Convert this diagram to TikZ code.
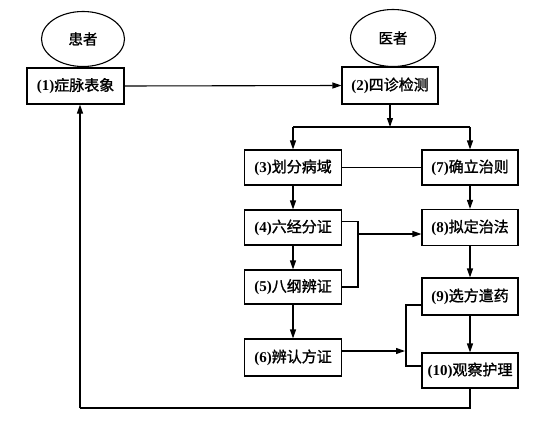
\documentclass[tikz,border=0pt]{standalone}
\usepackage{fontspec}
\setmainfont{Liberation Serif}
\newfontfamily\cjk[FakeBold=1.3]{Noto Sans CJK SC}
\usetikzlibrary{shapes.geometric,arrows.meta,calc}
\tikzset{
  box/.style={draw,line width=1.1pt,minimum width=97pt,minimum height=36pt,inner sep=0pt,font=\fontsize{15}{17}\selectfont},
  oval/.style={draw,ellipse,line width=1.1pt,inner sep=0pt,font=\fontsize{14.5}{16}\selectfont\cjk},
  ln/.style={line width=1.1pt},
  arr/.style={line width=1.1pt,-{Triangle[length=9pt,width=6pt]}}
}
\newcommand{\bx}[2]{{\bfseries(#1)}{\cjk #2}}
\begin{document}
\begin{tikzpicture}[x=1pt,y=-1pt]
\useasboundingbox (0,0) rectangle (546,423);
\node[oval,minimum width=83pt,minimum height=55pt] (pat) at (83,39) {患者};
\node[oval,minimum width=85pt,minimum height=57pt] (doc) at (393,38) {医者};
\node[box] (n1) at (75.5,86) {\bx{1}{症脉表象}};
\node[box,minimum width=96pt,minimum height=37pt] (n2) at (390,85.5) {\bx{2}{四诊检测}};
\node[box,minimum height=35pt] (n3) at (293,167.5) {\bx{3}{划分病域}};
\node[box,minimum width=96pt,minimum height=35pt] (n7) at (470,167.5) {\bx{7}{确立治则}};
\node[box,minimum height=35pt] (n4) at (293,227.5) {\bx{4}{六经分证}};
\node[box,minimum width=96pt] (n8) at (470,227.5) {\bx{8}{拟定治法}};
\node[box,minimum height=34pt] (n5) at (293,287) {\bx{5}{八纲辨证}};
\node[box,minimum width=96pt,minimum height=37pt] (n9) at (470,296.5) {\bx{9}{选方遣药}};
\node[box,minimum height=37pt] (n6) at (293,357.5) {\bx{6}{辨认方证}};
\node[box,minimum width=96pt,minimum height=35pt] (n10) at (470,370.5) {\bx{10}{观察护理}};
% connectors
\draw[arr] (n1.east) -- (n2.west);
\coordinate (j2) at (n2.south |- 0,127);
\draw[arr] (n2.south) -- (j2);
\coordinate (jl) at (n3.north |- 0,127);
\coordinate (jr) at (n7.north |- 0,127);
\draw[ln] (jl) -- (jr);
\draw[arr] (jl) -- (n3.north);
\draw[arr] (jr) -- (n7.north);
\draw[ln] (n3.east) -- (n7.west);
\draw[arr] (n3.south) -- (n4.north);
\draw[arr] (n4.south) -- (n5.north);
\draw[arr] (n5.south) -- (n6.north);
\draw[arr] (n7.south) -- (n8.north);
\draw[arr] (n8.south) -- (n9.north);
\draw[arr] (n9.south) -- (n10.north);
% bracket 4/5 -> 8
\coordinate (b1) at (358,0);
\draw[ln] ([yshift=6pt]n4.east) -| (b1 |- n5.east) -- (n5.east);
\coordinate (b1m) at (358,234);
\draw[arr] (b1m) -- (n8.west |- b1m);
% 6 -> bracket 9/10
\coordinate (b2a) at (406,305);
\coordinate (b2b) at (406,366);
\draw[ln] (n9.west |- b2a) -- (b2a) -- (b2b) -- (n10.west |- b2b);
\coordinate (b2m) at (405,351);
\draw[arr] (n6.east |- b2m) -- (b2m);
% feedback
\coordinate (fb1) at (n10.south |- 0,408);
\coordinate (fb2) at (80,408);
\draw[ln] (n10.south) -- (fb1) -- (fb2);
\draw[arr] (fb2) -- (fb2 |- n1.south);
\end{tikzpicture}
\end{document}
